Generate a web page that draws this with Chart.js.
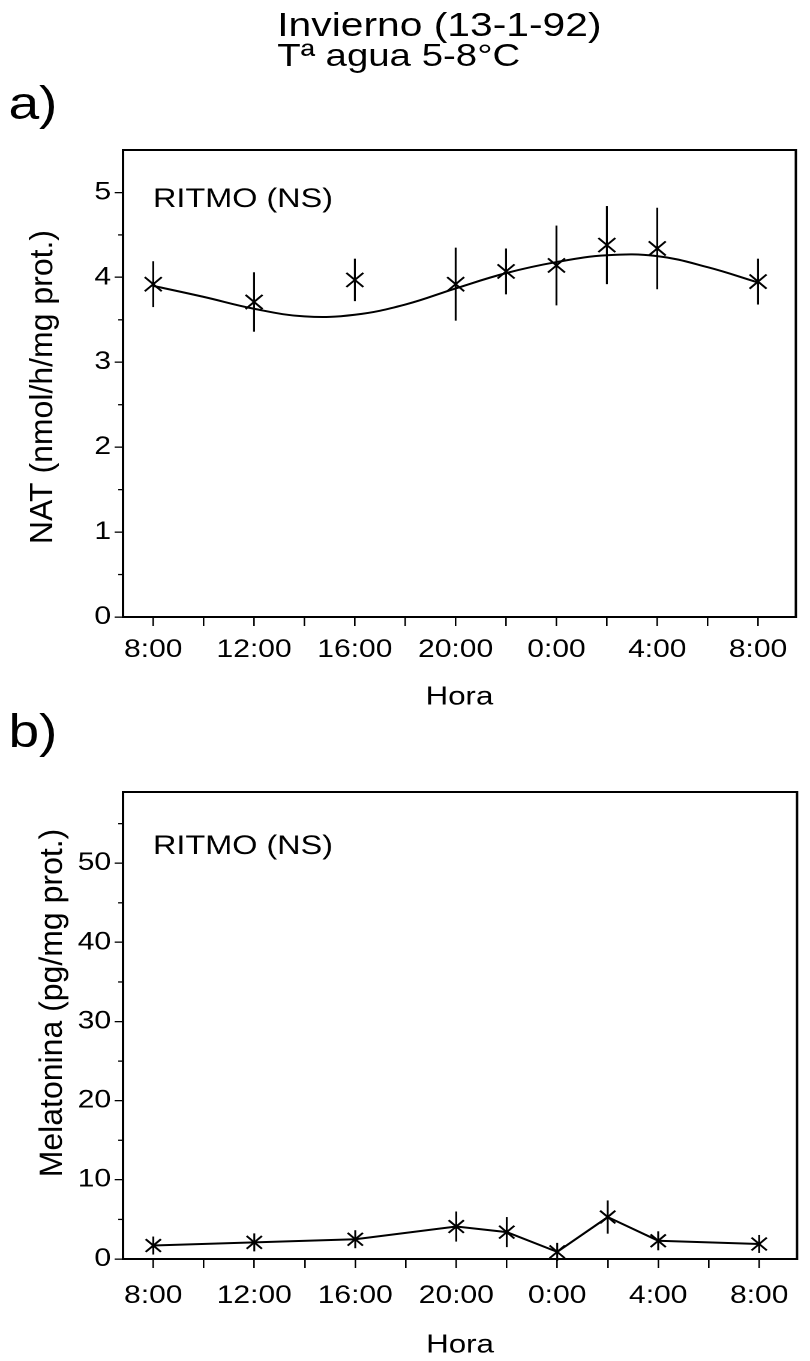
<!DOCTYPE html>
<html>
<head>
<meta charset="utf-8">
<script src="https://cdn.jsdelivr.net/npm/chart.js@4.4.0/dist/chart.umd.min.js"></script>
<style>
html, body { margin: 0; padding: 0; background: #fff; }
/* the scanned figure is wider than normal Helvetica, so the whole page is stretched */
#pagina { position: absolute; left: 0; top: 0; width: 675px; height: 1361px;
  transform: scaleX(1.2); transform-origin: 0 0;
  font-family: "Liberation Sans", Arial, sans-serif; color: #000; }
.txt { position: absolute; white-space: pre; line-height: 1; }
canvas { position: absolute; left: 0; }
</style>
</head>
<body>
<div id="pagina">
  <div class="txt" style="left:231px; top:7px; font-size:34px">Invierno (13-1-92)</div>
  <div class="txt" style="left:231px; top:39px; font-size:32px">Tª agua 5-8°C</div>
  <div class="txt" style="left:7px; top:80px; font-size:46px">a)</div>
  <div class="txt" style="left:7px; top:708px; font-size:46px">b)</div>
  <canvas id="graficoA" width="675" height="720" style="top:0"></canvas>
  <canvas id="graficoB" width="675" height="641" style="top:720px"></canvas>
</div>

<script>
// horas contadas desde las 8:00 de cada muestreo
const horasMuestreo = [0, 4, 8, 12, 14, 16, 18, 20, 24];
const horasTicks = [0, 2, 4, 6, 8, 10, 12, 14, 16, 18, 20, 22, 24];
const etiquetasHora = ['8:00', '12:00', '16:00', '20:00', '0:00', '4:00', '8:00'];

// a) NAT (nmol/h/mg prot.)
const natMedia = [3.92, 3.71, 3.97, 3.92, 4.07, 4.14, 4.38, 4.34, 3.95];
const natError = [0.27, 0.35, 0.25, 0.43, 0.27, 0.47, 0.46, 0.48, 0.27];
const natTicks = [0, 0.5, 1, 1.5, 2, 2.5, 3, 3.5, 4, 4.5, 5];
// curva ajustada (cosinor)
const horasAjuste = [0, 2, 4, 6, 8, 10, 12, 14, 16, 18, 20, 22, 24];
const natAjuste = [3.90, 3.77, 3.63, 3.54, 3.56, 3.68, 3.87, 4.05, 4.18, 4.26, 4.25, 4.12, 3.94];

// b) Melatonina (pg/mg prot.)
const melMedia = [1.7, 2.1, 2.5, 4.1, 3.4, 0.9, 5.3, 2.3, 1.9];
const melError = [1.0, 0.8, 0.8, 1.9, 1.9, 0.5, 2.1, 1.2, 1.0];
const melTicks = [0, 5, 10, 15, 20, 25, 30, 35, 40, 45, 50, 55];

const NEGRO = '#000';
const FUENTE = '"Liberation Sans", Arial, sans-serif';
const ESTIRADO = 1.2;

function puntos(xs, ys) {
  return xs.map((x, i) => ({ x: x, y: ys[i] }));
}

// barras de error, marco, ticks menores y textos del grafico
function extras(media, error, cfg) {
  return {
    id: 'extras',
    afterDatasetsDraw(chart) {
      const ctx = chart.ctx, x = chart.scales.x, y = chart.scales.y;
      ctx.save();
      ctx.strokeStyle = NEGRO;
      ctx.lineWidth = 1.6;
      media.forEach((m, i) => {
        const px = x.getPixelForValue(horasMuestreo[i]);
        let y1 = y.getPixelForValue(m + error[i]);
        let y2 = y.getPixelForValue(m - error[i]);
        const ym = y.getPixelForValue(m);
        if (cfg.asterisco) {
          y1 = Math.min(y1, ym - 9);
          y2 = Math.max(y2, ym + 9);
        }
        ctx.beginPath();
        ctx.moveTo(px, y1);
        ctx.lineTo(px, y2);
        ctx.stroke();
      });
      ctx.restore();
    },
    afterDraw(chart) {
      const ctx = chart.ctx, a = chart.chartArea, y = chart.scales.y;
      ctx.save();
      ctx.strokeStyle = NEGRO;
      ctx.lineWidth = 2;
      ctx.strokeRect(a.left, a.top, a.right - a.left, a.bottom - a.top);
      // ticks menores del eje y, mas cortos
      ctx.lineWidth = 1.3;
      y.ticks.forEach(t => {
        if (t.value % cfg.paso === 0) return;
        const py = y.getPixelForValue(t.value);
        ctx.beginPath();
        ctx.moveTo(a.left - 4, py);
        ctx.lineTo(a.left, py);
        ctx.stroke();
      });
      ctx.fillStyle = NEGRO;
      ctx.font = '27px ' + FUENTE;
      ctx.textBaseline = 'alphabetic';
      ctx.fillText('RITMO (NS)', a.left + 25, a.top + cfg.ritmoY);
      // titulo vertical sin el estirado horizontal
      ctx.translate(cfg.tituloX, cfg.tituloY);
      ctx.rotate(-Math.PI / 2);
      ctx.scale(1, 1 / ESTIRADO);
      ctx.font = '32px ' + FUENTE;
      ctx.textAlign = 'center';
      ctx.textBaseline = 'middle';
      ctx.fillText(cfg.titulo, 0, 0);
      ctx.restore();
    }
  };
}

function crearGrafico(id, datasets, yMax, yTicks, cfg) {
  return new Chart(document.getElementById(id), {
    type: 'scatter',
    data: { datasets: datasets },
    options: {
      responsive: false,
      animation: false,
      devicePixelRatio: 2,
      events: [],
      layout: { padding: { left: 0, top: cfg.arriba, right: 1.7, bottom: 0 } },
      plugins: { legend: { display: false }, tooltip: { enabled: false } },
      scales: {
        x: {
          type: 'linear',
          min: -1.2,
          max: 25.5,
          afterBuildTicks: s => { s.ticks = horasTicks.map(v => ({ value: v })); },
          afterFit: s => { s.height = cfg.altoX; },
          border: { display: false },
          grid: { drawOnChartArea: false, drawTicks: true, tickLength: 9, color: NEGRO, lineWidth: 1.3 },
          ticks: {
            autoSkip: false,
            maxRotation: 0,
            padding: cfg.padX,
            color: NEGRO,
            font: { family: FUENTE, size: 25 },
            callback: v => (v % 4 === 0 ? etiquetasHora[v / 4] : '')
          },
          title: {
            display: true,
            text: 'Hora',
            color: NEGRO,
            font: { family: FUENTE, size: 26 },
            padding: { top: 0, bottom: cfg.padHora }
          }
        },
        y: {
          min: 0,
          max: yMax,
          afterBuildTicks: s => { s.ticks = yTicks.map(v => ({ value: v })); },
          afterFit: s => { s.width = 102.5; },
          border: { display: false },
          grid: {
            drawOnChartArea: false,
            drawTicks: true,
            tickLength: 7,
            lineWidth: 1.3,
            color: c => (c.tick && c.tick.value % cfg.paso === 0 ? NEGRO : 'rgba(0,0,0,0)')
          },
          ticks: {
            autoSkip: false,
            padding: 3,
            color: NEGRO,
            font: { family: FUENTE, size: 25 },
            callback: v => (v % cfg.paso === 0 ? String(v) : '')
          }
        }
      }
    },
    plugins: [extras(cfg.media, cfg.error, cfg)]
  });
}

crearGrafico('graficoA', [
  {
    data: puntos(horasAjuste, natAjuste),
    showLine: true,
    tension: 0.4,
    borderColor: NEGRO,
    borderWidth: 2,
    pointRadius: 0
  },
  {
    data: puntos(horasMuestreo, natMedia),
    showLine: false,
    pointStyle: 'crossRot',
    pointRadius: 10,
    pointBorderWidth: 1.8,
    pointBorderColor: NEGRO
  }
], 5.5, natTicks, {
  arriba: 150, altoX: 103, padX: 9, padHora: 7, paso: 1,
  media: natMedia, error: natError, asterisco: false,
  ritmoY: 57, titulo: 'NAT (nmol/h/mg prot.)', tituloX: 36, tituloY: 387
});

crearGrafico('graficoB', [
  {
    data: puntos(horasMuestreo, melMedia),
    showLine: true,
    tension: 0,
    borderColor: NEGRO,
    borderWidth: 2,
    pointStyle: 'crossRot',
    pointRadius: 9,
    pointBorderWidth: 1.8,
    pointBorderColor: NEGRO
  }
], 59, melTicks, {
  arriba: 72, altoX: 102, padX: 13, padHora: 0, paso: 10,
  media: melMedia, error: melError, asterisco: true,
  ritmoY: 62, titulo: 'Melatonina (pg/mg prot.)', tituloX: 44, tituloY: 283
});
</script>
</body>
</html>
